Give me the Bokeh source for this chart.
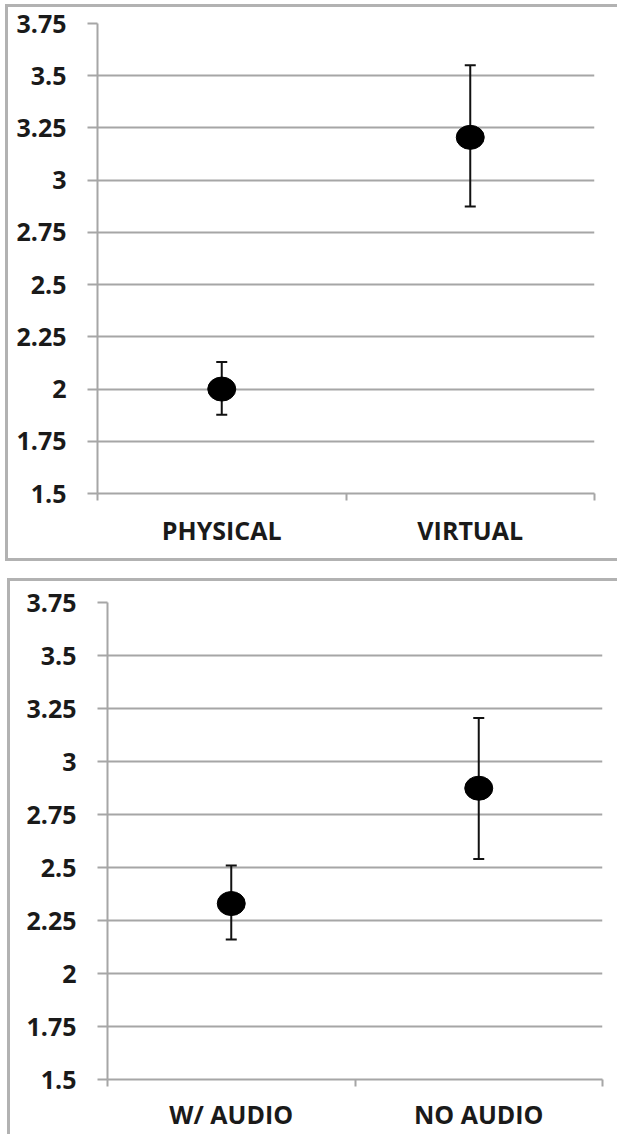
from bokeh.plotting import figure
from bokeh.layouts import column, row
from bokeh.models import FixedTicker, Range1d, ColumnDataSource, Div, Spacer
from bokeh.embed import file_html
from bokeh.resources import INLINE

# ---- data ----
y_ticks = [1.5, 1.75, 2, 2.25, 2.5, 2.75, 3, 3.25, 3.5, 3.75]
y_tick_labels = ["1.5", "1.75", "2", "2.25", "2.5", "2.75", "3", "3.25", "3.5", "3.75"]

top_categories = ["PHYSICAL", "VIRTUAL"]
top_means = [2.0, 3.205]
top_lower = [1.877, 2.874]
top_upper = [2.13, 3.55]

bottom_categories = ["W/ AUDIO", "NO AUDIO"]
bottom_means = [2.33, 2.874]
bottom_lower = [2.16, 2.54]
bottom_upper = [2.51, 3.205]

GRID = "#a6a6a6"
BORDER = "#b2b2b2"
FONT = "Open Sans"


def make_panel(cats, means, lower, upper, width, height, mb, x_standoff):
    p = figure(width=width, height=height, output_backend="svg", toolbar_location=None,
               x_range=Range1d(0, 2), y_range=Range1d(1.5, 3.75),
               min_border_left=mb[0], min_border_top=mb[1], min_border_right=mb[2],
               min_border_bottom=mb[3])
    p.outline_line_color = None
    xs = [0.5 + i for i in range(len(cats))]
    src = ColumnDataSource(dict(x=xs, m=means, lo=lower, hi=upper))

    # y axis
    p.yaxis.ticker = FixedTicker(ticks=y_ticks, minor_ticks=[])
    p.yaxis.major_label_overrides = dict(zip(y_ticks, y_tick_labels))
    p.yaxis.axis_line_color = GRID
    p.yaxis.axis_line_width = 2
    p.yaxis.major_tick_line_color = GRID
    p.yaxis.major_tick_line_width = 2
    p.yaxis.major_tick_out = 10
    p.yaxis.major_tick_in = 0
    p.yaxis.minor_tick_line_color = None
    p.yaxis.major_label_standoff = 21
    p.yaxis.major_label_text_font = FONT
    p.yaxis.major_label_text_font_size = "25px"
    p.yaxis.major_label_text_font_style = "bold"
    p.yaxis.major_label_text_color = "#1a1a1a"

    # x axis: labels at centers, ticks at boundaries
    p.xaxis.ticker = FixedTicker(ticks=xs, minor_ticks=[0, 1, 2])
    p.xaxis.major_label_overrides = dict(zip(xs, cats))
    p.xaxis.axis_line_color = GRID
    p.xaxis.axis_line_width = 2
    p.xaxis.major_tick_line_color = None
    p.xaxis.major_tick_out = 7
    p.xaxis.major_tick_in = 0
    p.xaxis.minor_tick_line_color = GRID
    p.xaxis.minor_tick_line_width = 2
    p.xaxis.minor_tick_out = 7
    p.xaxis.minor_tick_in = 0
    p.xaxis.major_label_standoff = x_standoff
    p.xaxis.major_label_text_font = FONT
    p.xaxis.major_label_text_font_size = "25px"
    p.xaxis.major_label_text_font_style = "bold"
    p.xaxis.major_label_text_color = "#1a1a1a"

    p.xgrid.visible = False
    p.ygrid.ticker = FixedTicker(ticks=y_ticks)
    p.ygrid.grid_line_color = GRID
    p.ygrid.grid_line_width = 2

    # error bars
    p.segment(x0="x", y0="lo", x1="x", y1="hi", source=src, line_color="#111111", line_width=2)
    p.scatter(x="x", y="lo", source=src, marker="dash", size=11, line_color="#111111", line_width=2)
    p.scatter(x="x", y="hi", source=src, marker="dash", size=11, line_color="#111111", line_width=2)
    # mean dots
    p.ellipse(x="x", y="m", source=src, width=28, height=24, width_units="screen",
              height_units="screen", fill_color="#000000", line_color="#000000")
    return p


def bar(w, h):
    return Div(text="", width=w, height=h, margin=0, styles={"background-color": BORDER})


H1, W1 = 551, 609
H2, W2 = 553, 607
p1 = make_panel(top_categories, top_means, top_lower, top_upper, W1, H1, (89, 16, 23, 65), 12)
p2 = make_panel(bottom_categories, bottom_means, bottom_lower, bottom_upper, W2, H2, (97, 21, 15, 55), 10)

panel1 = row(Spacer(width=5, height=H1 + 6),
             column(bar(W1 + 3, 3), row(bar(3, H1), p1), bar(W1 + 3, 3)))
panel2 = row(Spacer(width=7, height=H2 + 3),
             column(bar(W2 + 3, 3), row(bar(3, H2), p2)))

layout = column(Spacer(height=4, width=10), panel1, Spacer(height=17, width=10), panel2)
open("out.html", "w").write(file_html(layout, INLINE))
